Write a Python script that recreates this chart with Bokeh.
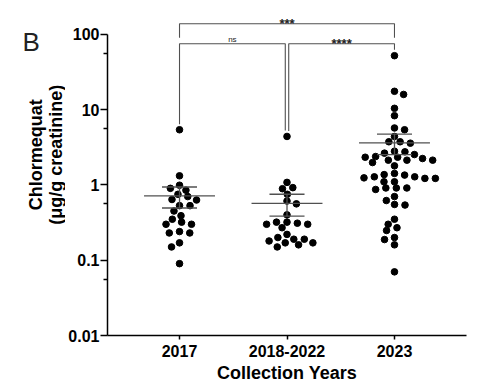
import numpy as np
from bokeh.plotting import figure
from bokeh.layouts import row
from bokeh.models import FixedTicker, Label, Range1d
from bokeh.core.properties import value
from bokeh.embed import file_html
from bokeh.resources import INLINE

# ---------------- data ----------------
CATEGORIES = ["2017", "2018-2022", "2023"]
VALUES_2017 = [5.4, 1.32, 0.99, 0.90, 0.85, 0.70, 0.75, 0.63, 0.64, 0.53, 0.53, 0.45,
               0.35, 0.39, 0.30, 0.30, 0.32, 0.24, 0.23, 0.23, 0.17, 0.15, 0.09]
VALUES_2018_2022 = [4.4, 1.08, 0.89, 0.92, 0.75, 0.61, 0.56, 0.40, 0.32, 0.30, 0.32, 0.27,
                    0.30, 0.31, 0.22, 0.18, 0.19, 0.15, 0.17, 0.20, 0.16, 0.17, 0.19]
VALUES_2023 = [52, 17.5, 15.9, 10.4, 8.3, 5.7, 5.4, 4.4, 3.74, 3.58, 3.74,
               2.53, 2.33, 2.75, 2.13, 2.38, 2.33, 1.98, 2.64, 2.13, 2.13, 2.80, 2.24, 1.79,
               1.42, 1.28, 1.10, 1.28, 1.37, 1.10, 1.22, 1.22, 1.35, 1.24,
               0.91, 0.87, 0.91, 0.91, 0.70, 0.62, 0.54, 0.55,
               0.35, 0.27, 0.188, 0.30, 0.248, 0.200, 0.160, 0.070]
GROUPS = [VALUES_2017, VALUES_2018_2022, VALUES_2023]
Y_TICKS = [0.01, 0.1, 1, 10, 100]
Y_TICK_LABELS = ["0.01", "0.1", "1", "10", "100"]
Y_MINOR_TICKS = [0.056, 0.56, 5.6, 56]
COMPARISONS = [(0, 1, "ns", 0), (1, 2, "****", 0), (0, 2, "***", 1)]
X_TITLE = "Collection Years"
Y_TITLE_LINES = ["Chlormequat", "(\u03bcg/g creatinine)"]
PANEL = "B"

# ---------------- layout ----------------
SIDE_W = 65                      # width of the left strip holding the panel letter and y title
FRAME_W, FRAME_H = 359, 325
BORDER_L, BORDER_R, BORDER_T, BORDER_B = 107 - SIDE_W, 13, 10, 50
TOTAL_H = 385
X_START, X_END = 0.33, 3.67
Y_START = 0.01
DECADE_PX = 75.3
Y_END = 10 ** (np.log10(Y_START) + FRAME_H / DECADE_PX)
PX_PER_X = FRAME_W / (X_END - X_START)
FONT = "Liberation Sans"
LINE_COL = "#505050"

p = figure(frame_width=FRAME_W, frame_height=FRAME_H, y_axis_type="log",
           x_range=Range1d(X_START, X_END), y_range=Range1d(Y_START, Y_END),
           min_border_left=BORDER_L, min_border_right=BORDER_R,
           min_border_top=BORDER_T, min_border_bottom=BORDER_B,
           output_backend="svg", toolbar_location=None)
p.outline_line_color = None
p.grid.visible = False
p.background_fill_color = "white"


def swarm(vals, dx_min=10.5, dy_min=6.3):
    ys = [DECADE_PX * np.log10(v) for v in vals]
    order = sorted(range(len(vals)), key=lambda i: -vals[i])
    offs = [0.0] * len(vals)
    placed = []
    for k, i in enumerate(order):
        forb = []
        for j in placed:
            d = abs(ys[i] - ys[j])
            if d < dy_min:
                half = dx_min * np.sqrt(1 - (d / dy_min) ** 2)
                forb.append((offs[j] - half, offs[j] + half))
        cands = [0.0] + [a for a, b in forb] + [b for a, b in forb]
        valid = [c for c in cands if all(not (a + 1e-6 < c < b - 1e-6) for a, b in forb)]
        sgn = 1 if k % 2 == 0 else -1
        best = min(valid, key=lambda c: (round(abs(c), 1), -sgn * c))
        offs[i] = best
        placed.append(i)
    return [o / PX_PER_X for o in offs]


xs, ys = [], []
mx0, mx1, my = [], [], []
ex, ey0, ey1 = [], [], []
cx0, cx1, cy = [], [], []
for gi, vals in enumerate(GROUPS):
    xc = gi + 1
    offs = swarm(vals)
    xs += [xc + o for o in offs]
    ys += list(vals)
    arr = np.array(vals, dtype=float)
    m = arr.mean()
    sem = arr.std(ddof=1) / np.sqrt(len(arr))
    mx0.append(xc - 0.33); mx1.append(xc + 0.33); my.append(m)
    ex.append(xc); ey0.append(m - sem); ey1.append(m + sem)
    for v in (m - sem, m + sem):
        cx0.append(xc - 0.163); cx1.append(xc + 0.163); cy.append(v)

p.scatter(xs, ys, size=6.6, color="black", line_color="black")
p.segment(mx0, my, mx1, my, line_color=LINE_COL, line_width=1.3)
p.segment(ex, ey0, ex, ey1, line_color=LINE_COL, line_width=1.3)
p.segment(cx0, cy, cx1, cy, line_color=LINE_COL, line_width=1.3)

# significance brackets
LEVELS = [75, 138]
for a, b, txt, lev in COMPARISONS:
    yl = LEVELS[lev]
    xa = a + 1 + (0.016 if a == 1 else 0)
    xb = b + 1 - (0.016 if b == 1 else 0)
    if lev == 0:
        ya = max(GROUPS[a]) * 1.18
        yb = max(GROUPS[b]) * 1.2
    else:
        ya = yb = LEVELS[0] * 1.2
    p.line([xa, xa, xb, xb], [ya, yl, yl, yb], line_color=LINE_COL, line_width=1.1)
    is_star = "*" in txt
    p.add_layout(Label(x=(xa + xb) / 2, y=yl, text=txt, text_align="center",
                       text_baseline="alphabetic", y_offset=0 if is_star else 4.5,
                       text_font=FONT, text_font_size="13px" if is_star else "8px",
                       text_font_style="bold" if is_star else "normal", text_color="#222"))

# axes
xa_ = p.xaxis[0]
xa_.ticker = FixedTicker(ticks=[1, 2, 3])
xa_.major_label_overrides = {i + 1: c for i, c in enumerate(CATEGORIES)}
xa_.minor_tick_line_color = None
xa_.major_tick_out = 4
xa_.major_tick_in = 0
xa_.major_label_standoff = 5
xa_.axis_label = X_TITLE
xa_.axis_label_standoff = 3

ya_ = p.yaxis[0]
ya_.ticker = FixedTicker(ticks=Y_TICKS, minor_ticks=Y_MINOR_TICKS)
ya_.major_label_overrides = {t: l for t, l in zip(Y_TICKS, Y_TICK_LABELS)}
ya_.bounds = (Y_TICKS[0], Y_TICKS[-1])
ya_.major_tick_out = 7
ya_.major_tick_in = 0
ya_.minor_tick_out = 4
ya_.minor_tick_in = 0
ya_.major_label_standoff = 1

for ax in (xa_, ya_):
    ax.axis_line_width = 1.5
    ax.axis_line_color = "black"
    ax.major_tick_line_width = 1.5
    ax.minor_tick_line_width = 1.5
    ax.major_tick_line_color = "black"
    ax.major_label_text_font = FONT
    ax.major_label_text_font_style = "bold"
    ax.major_label_text_font_size = "16px"
    ax.major_label_text_color = "black"
    ax.axis_label_text_font = FONT
    ax.axis_label_text_font_style = "bold"
    ax.axis_label_text_font_size = "18px"
    ax.axis_label_text_color = "black"
ya_.minor_tick_line_color = "black"

# ---------------- left strip: panel letter + y-axis title ----------------
side = figure(width=SIDE_W, height=TOTAL_H, x_range=Range1d(0, SIDE_W),
              y_range=Range1d(TOTAL_H, 0), min_border=0, x_axis_location=None,
              y_axis_location=None, output_backend="svg", toolbar_location=None)
side.outline_line_color = None
side.grid.visible = False
side.text(x=[22], y=[37.5], text=[PANEL], text_align="left", text_baseline="middle",
          text_font=value(FONT), text_font_size="26px", text_color="#222")
side.text(x=[35.5, 55.5], y=[171, 171], text=Y_TITLE_LINES, angle=np.pi / 2,
          text_align="center", text_baseline="middle", text_font=value(FONT),
          text_font_size="18px", text_font_style="bold", text_color="black")

layout = row(side, p, spacing=0)
open("out.html", "w").write(file_html(layout, INLINE))
